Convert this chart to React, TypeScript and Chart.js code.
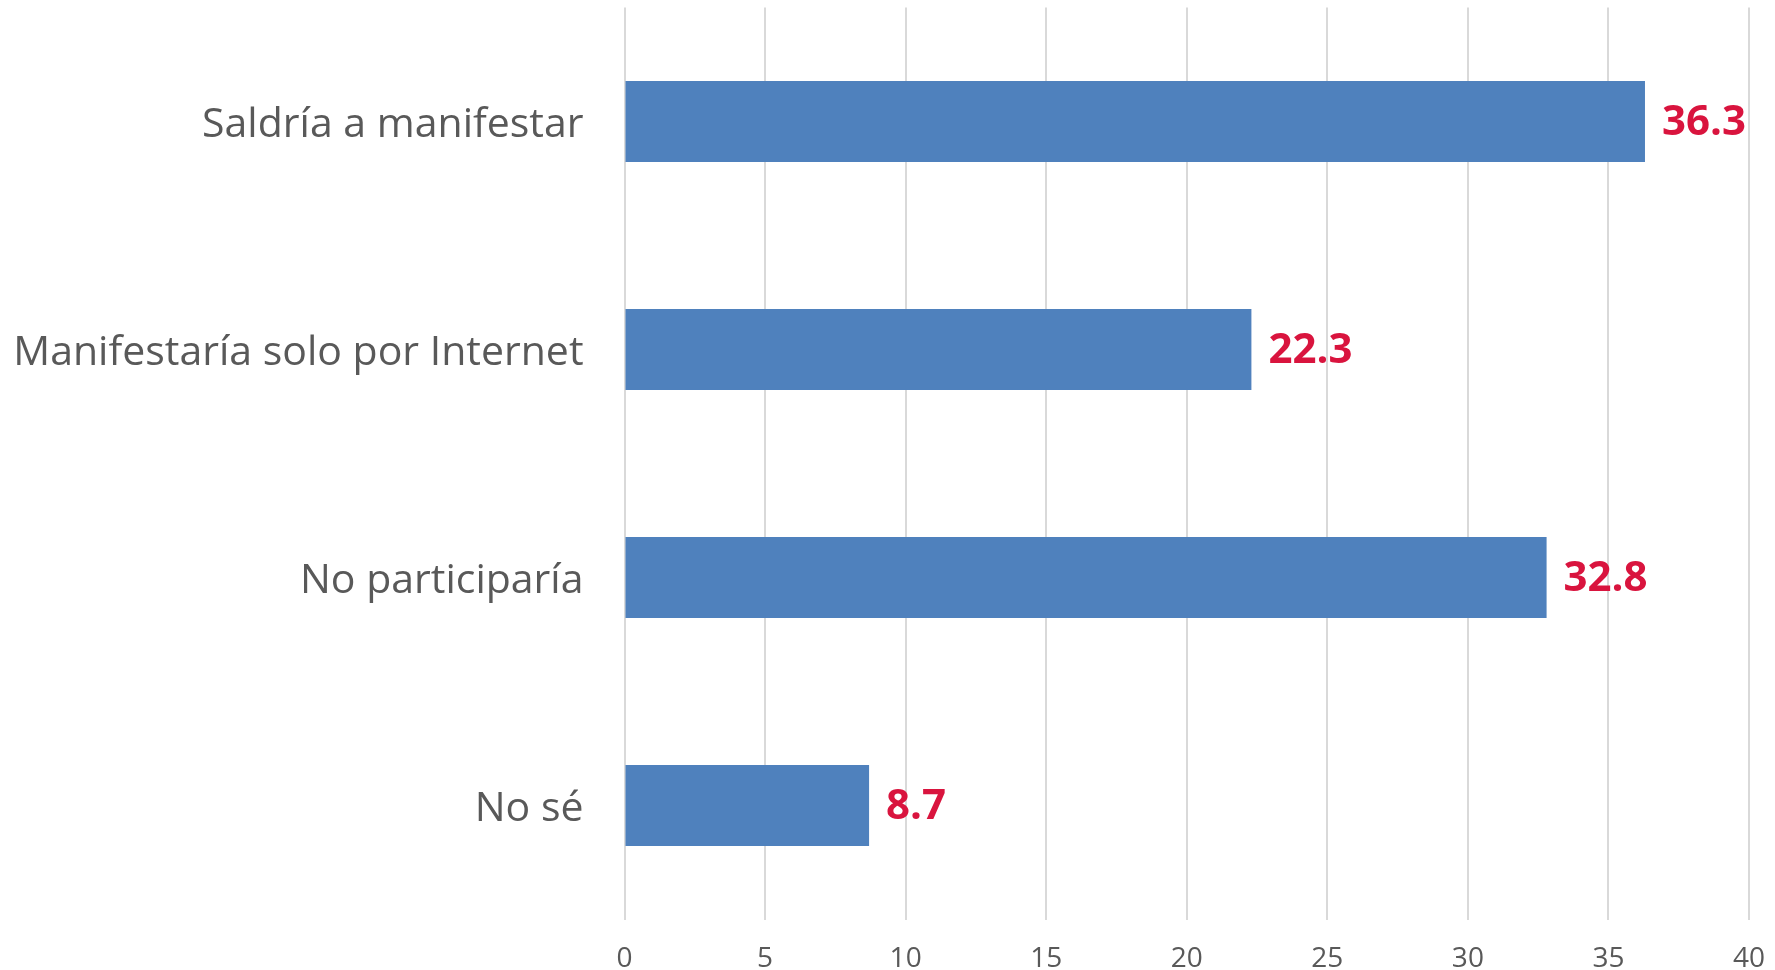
import React, { useEffect, useRef } from "react";
import { Chart, registerables } from "chart.js";

Chart.register(...registerables);

const categories = [
  "Saldría a manifestar",
  "Manifestaría solo por Internet",
  "No participaría",
  "No sé",
];
const values = [36.3, 22.3, 32.8, 8.7];
const xTicks = [0, 5, 10, 15, 20, 25, 30, 35, 40];

const FONT = "'Open Sans', 'DejaVu Sans', sans-serif";

const valueLabels = {
  id: "valueLabels",
  afterDatasetsDraw(chart: any) {
    const ctx = chart.ctx;
    const meta = chart.getDatasetMeta(0);
    ctx.save();
    ctx.fillStyle = "#D9143E";
    ctx.font = `bold 42px ${FONT}`;
    ctx.textAlign = "left";
    ctx.textBaseline = "middle";
    meta.data.forEach((bar: any, i: number) => {
      const v = chart.data.datasets[0].data[i];
      ctx.fillText(v.toFixed(1), bar.x + 17, bar.y + 2);
    });
    ctx.restore();
  },
};

function zeroPad(axis: any) {
  axis.paddingTop = 0;
  axis.paddingBottom = 0;
  axis.paddingLeft = 0;
  axis.paddingRight = 0;
}

export default function App() {
  const ref = useRef<HTMLCanvasElement | null>(null);
  useEffect(() => {
    if (!ref.current) return;
    const chart = new Chart(ref.current, {
      type: "bar",
      data: {
        labels: categories,
        datasets: [
          {
            data: values,
            backgroundColor: "#4F81BD",
            borderColor: "#4F81BD",
            borderWidth: 0,
            barPercentage: 0.355,
            categoryPercentage: 1,
          },
        ],
      },
      options: {
        indexAxis: "y",
        animation: false,
        responsive: false,
        maintainAspectRatio: false,
        layout: { padding: { top: 7.5, right: 26, left: 0, bottom: 0 } },
        plugins: { legend: { display: false }, tooltip: { enabled: false } },
        scales: {
          x: {
            type: "linear",
            min: 0,
            max: 40,
            afterBuildTicks(axis: any) {
              axis.ticks = xTicks.map((v) => ({ value: v }));
            },
            grid: { color: "#D9D9D9", lineWidth: 2, drawTicks: false },
            border: { display: false },
            ticks: {
              color: "#595959",
              font: { family: FONT, size: 28 },
              padding: 23,
            },
            afterFit(axis: any) {
              axis.height = 50.5;
              zeroPad(axis);
            },
          },
          y: {
            type: "category",
            grid: { display: false, drawTicks: false },
            border: { display: false },
            ticks: {
              color: "#595959",
              font: { family: FONT, size: 41 },
              padding: 41,
              labelOffset: 3.5,
            },
            afterFit(axis: any) {
              axis.width = 624.5;
              zeroPad(axis);
            },
          },
        },
      },
      plugins: [valueLabels],
    });
    return () => chart.destroy();
  }, []);
  return (
    <div style={{ position: "fixed", left: 0, top: 0, width: 1775, height: 970, background: "#fff" }}>
      <canvas ref={ref} width={1775} height={970} style={{ display: "block" }} />
    </div>
  );
}
